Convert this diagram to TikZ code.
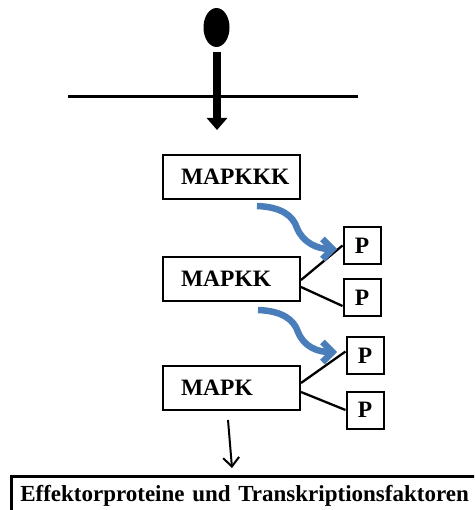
\documentclass[tikz,border=0pt]{standalone}
\usepackage{fontspec}
\setmainfont{Liberation Serif}
\usetikzlibrary{arrows.meta,shapes.geometric}
\definecolor{bluearr}{RGB}{74,126,187}
\begin{document}
\begin{tikzpicture}[x=1pt,y=-1pt,
  kbox/.style={draw, line width=2pt, minimum width=137pt, minimum height=44pt,
    inner xsep=18pt, text width=101pt, align=left,
    font=\fontsize{23.5}{23.5}\selectfont\bfseries},
  pbox/.style={draw, line width=2pt, minimum width=37pt, minimum height=37pt,
    inner sep=0pt, font=\fontsize{23.5}{23.5}\selectfont\bfseries},
  link/.style={line width=2.3pt},
  phos/.style={bluearr, line width=6.5pt, -{Straight Barb[length=10pt,width=20pt]}}]
\useasboundingbox (0,0) rectangle (474,510);
\clip (0,0) rectangle (474,510);

% receptor
\draw[line width=3pt] (68,97) coordinate (m1) -- (358,97) coordinate (m2);
\node[ellipse, fill=black, minimum width=26pt, minimum height=39pt, inner sep=0pt] (lig) at (216.5,27.5) {};
\coordinate (st1) at (217,52);
\coordinate (st2) at (217,130);
\draw[line width=8pt, -{Triangle[length=12pt,width=20pt]}] (st1) -- (st2);

% kinases
\node[kbox] (k3) at (231.5,177) {MAPKKK};
\node[kbox] (k2) at (231.5,278.5) {MAPKK};
\node[kbox] (k1) at (231.5,388) {MAPK};

\node[pbox] (p1) at (362,245.5) {P};
\node[pbox] (p2) at (362,297.5) {P};
\node[pbox] (p3) at (365,355.5) {P};
\node[pbox] (p4) at (365,410) {P};

\draw[link] ([yshift=-1.5pt]k2.east) -- (p1.west);
\draw[link] ([yshift=-8.5pt]k2.east) -- ([yshift=-8.5pt]p2.west);
\draw[link] ([yshift=5pt]k1.east) -- ([yshift=4pt]p3.west);
\draw[link] ([yshift=-4pt]k1.east) -- (p4.west);

% phosphorylation arrows
\coordinate (b1s) at (257,206);
\coordinate (b1e) at (337,249);
\coordinate (b2s) at (258,310);
\coordinate (b2e) at (337,352);
\draw[phos] (b1s) .. controls +(25,1) and +(-4,-12) .. ++(40,22) .. controls +(6,15) and +(-19,0) .. (b1e);
\draw[phos] (b2s) .. controls +(25,1) and +(-4,-12) .. ++(40,22) .. controls +(6,15) and +(-19,0) .. (b2e);

% output
\node[draw, line width=2.5pt, anchor=north west, minimum height=40pt,
  inner xsep=9pt, text width=460pt, align=left,
  font=\fontsize{23}{23}\selectfont\bfseries] (eff) at (10,475)
  {Effektorproteine und Transkriptionsfaktoren};
\coordinate (o1) at (228,420);
\coordinate (o2) at (232,468);
\draw[line width=2pt, -{Straight Barb[length=9pt,width=16pt]}] (o1) -- (o2);
\end{tikzpicture}
\end{document}
